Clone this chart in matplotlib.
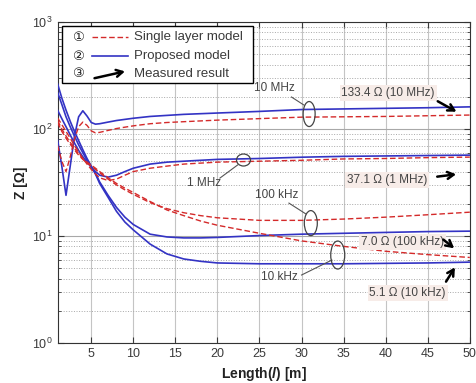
"""Impedance Z vs electrode length: single layer model vs proposed model."""

import matplotlib

matplotlib.use("Agg")
import matplotlib.pyplot as plt
from matplotlib.patches import Ellipse, Rectangle
from matplotlib.transforms import ScaledTranslation

plt.rcParams["font.family"] = ["Liberation Sans", "DejaVu Sans", "Noto Sans CJK JP"]
plt.rcParams["mathtext.fontset"] = "custom"
plt.rcParams["mathtext.rm"] = "Liberation Sans"
plt.rcParams["mathtext.it"] = "Liberation Sans:italic:bold"

# length [m]
length = [1, 1.5, 2, 2.5, 3, 3.5, 4, 4.5, 5, 5.5, 6, 7, 8, 9, 10,
          12, 14, 16, 18, 20, 25, 30, 35, 40, 45, 50]

# proposed model (blue, solid)
prop_10m = [79, 45, 24, 45, 85, 130, 148, 132, 115, 111, 112, 116, 120, 123, 126,
            131, 134, 137, 139, 141, 146, 152, 154, 156, 158, 161]
prop_1m = [150, 125, 105, 88, 74, 63, 55, 49, 44, 40, 37, 35.5, 37, 40, 43,
           47, 49, 50, 51, 52, 53, 54.5, 55.5, 56, 56.5, 57]
prop_100k = [220, 170, 130, 105, 86, 71, 60, 51, 44, 38.5, 32, 24, 18.5, 15, 12.8,
             10.4, 9.8, 9.6, 9.6, 9.7, 10.1, 10.4, 10.6, 10.8, 11.0, 11.1]
prop_10k = [264, 195, 150, 118, 95, 78, 64, 53, 45, 38, 31, 23, 17, 13.5, 11.4,
            8.4, 6.8, 6.1, 5.8, 5.6, 5.5, 5.5, 5.5, 5.55, 5.6, 5.7]

# single layer model (red, dashed)
single_10m = [70, 50, 40, 55, 80, 105, 116, 108, 96, 92, 93, 97, 101, 104, 107,
              112, 115, 117, 119, 121, 125, 129, 130, 131, 133, 135]
single_1m = [127, 110, 95, 82, 70, 61, 53, 47, 42, 38, 35, 33, 34, 37, 40,
             43, 45, 47, 48, 49, 50, 51, 52.5, 53, 54, 54.6]
single_100k = [115, 95, 82, 72, 64, 57, 52, 48, 45, 42, 39, 34, 30, 27, 24.5,
               20.5, 18, 16.5, 15.5, 14.8, 14.0, 14.0, 14.4, 15.0, 15.8, 16.7]
single_10k = [120, 100, 86, 75, 66, 59, 53, 49, 46, 43, 40, 35, 31, 28, 25.5,
              21, 17.5, 15.5, 13.8, 12.6, 10.6, 9.0, 8.0, 7.2, 6.7, 6.3]

legend_labels = ["Single layer model", "Proposed model", "Measured result"]
legend_marks = ["\u2460", "\u2461", "\u2462"]

# (label, text pos, leader start, leader end, ellipse centre, ellipse size px)
freq_notes = [
    ("10 MHz", (24.4, 241), (28.8, 199), (30.3, 167), (30.9, 138), (12, 25)),
    ("1 MHz", (16.4, 31.3), (20.3, 34.8), (22.4, 46.1), (23.1, 51.3), (14, 12)),
    ("100 kHz", (24.5, 24.2), (28.5, 20.3), (30.5, 16.1), (31.1, 13.2), (13, 25)),
    ("10 kHz", (25.2, 4.14), (30.0, 4.32), (33.6, 5.96), (34.3, 6.64), (14, 28)),
]

# measured values: (label, text centre, arrow start, arrow tip)
measured = [
    ("133.4 \u03a9 (10 MHz)", (40.3, 217), (45.9, 187), (48.7, 141)),
    ("37.1 \u03a9 (1 MHz)", (40.2, 33.4), (45.8, 35.6), (48.7, 38.0)),
    ("7.0 \u03a9 (100 kHz)", (42.0, 8.79), (46.6, 9.6), (48.4, 7.4)),
    ("5.1 \u03a9 (10 kHz)", (42.6, 2.93), (47.0, 3.56), (48.4, 5.36)),
]

BLUE = "#3333c4"
RED = "#d42a2a"
INK = "#222222"
TICK = "#3a3a3a"


def main():
    fig = plt.figure(figsize=(4.76, 3.83), dpi=100, facecolor="white")
    ax = fig.add_axes([0.121, 0.1044, 0.866, 0.8382])

    for ys in (prop_10m, prop_1m, prop_100k, prop_10k):
        ax.plot(length, ys, color=BLUE, lw=1.2, zorder=3)
    for ys in (single_10m, single_1m, single_100k, single_10k):
        ax.plot(length, ys, color=RED, lw=1.0, dashes=(4, 2), zorder=3)

    ax.set_yscale("log")
    ax.set_xlim(1, 50)
    ax.set_ylim(1, 1000)
    ax.set_xticks(range(5, 51, 5))

    ax.grid(which="major", axis="x", color="#c4c4c4", lw=0.8)
    ax.grid(which="major", axis="y", color="#a8a8a8", lw=0.8)
    ax.grid(which="minor", axis="y", color="#a8a8a8", lw=0.7, linestyle=":")
    ax.set_axisbelow(True)
    ax.tick_params(which="both", direction="in", top=True, right=True,
                   colors=TICK, labelsize=9)
    ax.tick_params(which="major", length=4)
    ax.tick_params(which="minor", length=2)
    for sp in ax.spines.values():
        sp.set_color("#333333")

    ax.set_xlabel("Length($l$) [m]", fontsize=10, fontweight="bold", color=INK)
    ax.set_ylabel("Z [\u03a9]", fontsize=10, fontweight="bold", color=INK, labelpad=3)

    # frequency callouts with ellipses
    for label, tpos, l0, l1, c, (w, h) in freq_notes:
        ax.text(tpos[0], tpos[1], label, fontsize=8.5, color="#444444",
                ha="left", va="center", zorder=5)
        ax.plot([l0[0], l1[0]], [l0[1], l1[1]], color="#555555", lw=0.8, zorder=5)
        ell = Ellipse((0, 0), w / 100, h / 100, fill=False, ec="#444444", lw=0.9,
                      transform=fig.dpi_scale_trans + ScaledTranslation(c[0], c[1], ax.transData),
                      zorder=5)
        ax.add_patch(ell)

    # measured results
    for label, tpos, a0, a1 in measured:
        ax.text(tpos[0], tpos[1], label, fontsize=8.5, color="#444444",
                ha="center", va="center", zorder=6,
                bbox=dict(boxstyle="square,pad=0.15", fc="#f7ece8", ec="none"))
        ax.annotate("", xy=a1, xytext=a0, zorder=6,
                    arrowprops=dict(arrowstyle="->,head_length=0.45,head_width=0.25",
                                    color="black", lw=1.8))

    # legend box
    ax.add_patch(Rectangle((0.011, 0.81), 0.462, 0.178, transform=ax.transAxes,
                           fc="white", ec="black", lw=1.0, zorder=7))
    rows_y = [0.953, 0.894, 0.838]
    for i, (mk, lab) in enumerate(zip(legend_marks, legend_labels)):
        y = rows_y[i]
        ax.text(0.050, y, mk, transform=ax.transAxes, fontsize=9.5, ha="center",
                va="center", color=INK, zorder=8,
                family=["DejaVu Sans", "Noto Sans CJK JP"])
        ax.text(0.185, y, lab, transform=ax.transAxes, fontsize=9.5, ha="left",
                va="center", color="#3a3a3a", zorder=8)
    ax.plot([0.083, 0.170], [rows_y[0]] * 2, transform=ax.transAxes, color=RED,
            lw=1.0, dashes=(4, 2), zorder=8)
    ax.plot([0.083, 0.170], [rows_y[1]] * 2, transform=ax.transAxes, color=BLUE,
            lw=1.2, zorder=8)
    ax.annotate("", xy=(0.17, rows_y[2] + 0.01), xytext=(0.083, rows_y[2] - 0.015),
                xycoords="axes fraction", zorder=8,
                arrowprops=dict(arrowstyle="->,head_length=0.45,head_width=0.25",
                                color="black", lw=1.8))

    fig.savefig("out.png", dpi=100, facecolor="white")


if __name__ == "__main__":
    main()
